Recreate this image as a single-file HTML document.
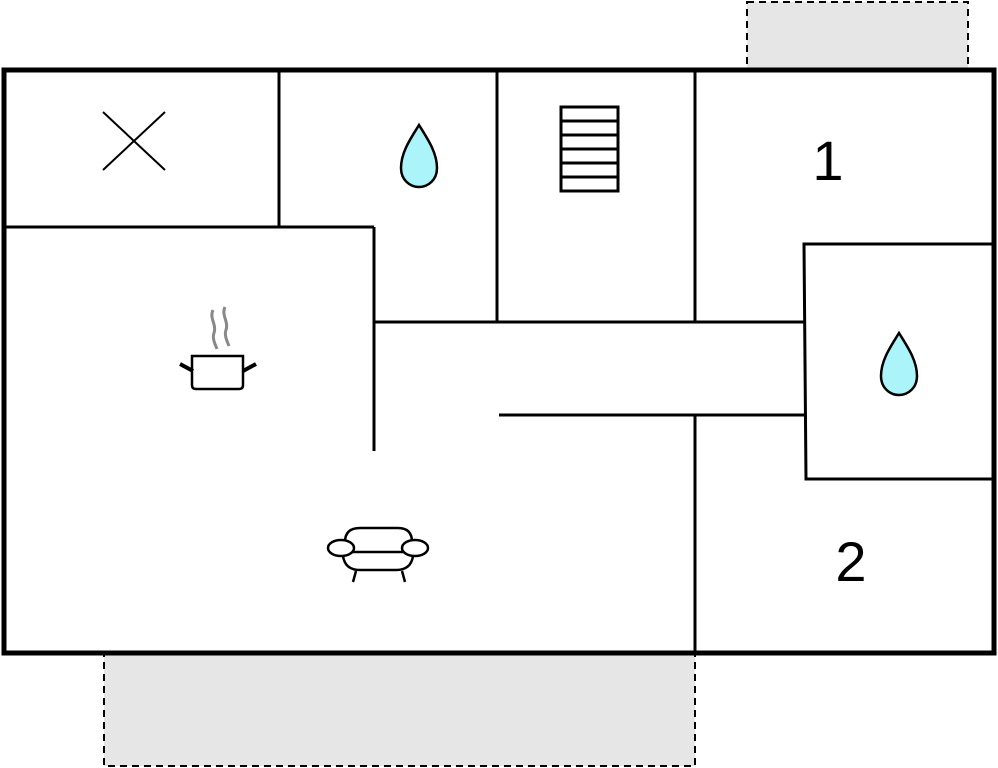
<!DOCTYPE html>
<html><head><style>html,body{margin:0;padding:0;background:#fff;}svg{display:block}</style></head>
<body>
<svg width="998" height="768" viewBox="0 0 998 768" xmlns="http://www.w3.org/2000/svg">
<rect x="747" y="2" width="221" height="68" fill="#e6e6e6" stroke="#000" stroke-width="2" stroke-dasharray="7,5"/>
<rect x="104" y="653" width="591" height="113" fill="#e6e6e6" stroke="#000" stroke-width="2" stroke-dasharray="7,5"/>
<rect x="4" y="70" width="990" height="583" fill="#fff" stroke="#000" stroke-width="5"/>
<g stroke="#000" stroke-width="3" fill="none">
<line x1="279" y1="70" x2="279" y2="227"/>
<line x1="4" y1="227" x2="374" y2="227"/>
<line x1="374" y1="227" x2="374" y2="451"/>
<line x1="497" y1="70" x2="497" y2="322"/>
<line x1="695" y1="70" x2="695" y2="322"/>
<line x1="374" y1="322" x2="805" y2="322"/>
<polyline points="994,244 804,244 806,479 994,479"/>
<line x1="499" y1="415" x2="806" y2="415"/>
<line x1="695" y1="415" x2="695" y2="653"/>
<line x1="103" y1="112" x2="165" y2="170" stroke-width="2"/>
<line x1="165" y1="112" x2="103" y2="170" stroke-width="2"/>
<rect x="561" y="107" width="57" height="84"/>
<line x1="561" y1="121" x2="618" y2="121"/>
<line x1="561" y1="135" x2="618" y2="135"/>
<line x1="561" y1="149" x2="618" y2="149"/>
<line x1="561" y1="163" x2="618" y2="163"/>
<line x1="561" y1="177" x2="618" y2="177"/>
</g>
<path d="M419 125 C411 138 401 152 401 168 C401 180 410 187 419 187 C428 187 437 180 437 168 C437 152 427 138 419 125 Z" fill="#aaf4fa" stroke="#000" stroke-width="2.5"/>
<path d="M899 333 C891 346 881 360 881 376 C881 388 890 395 899 395 C908 395 917 388 917 376 C917 360 907 346 899 333 Z" fill="#aaf4fa" stroke="#000" stroke-width="2.5"/>
<g fill="none" stroke="#888" stroke-width="3">
<path d="M213 310 C209 318 217 325 214 333 C212 338 215 344 217 349"/>
<path d="M225 307 C221 315 229 322 226 330 C224 335 227 341 229 346"/>
</g>
<g stroke="#000" fill="none">
<path d="M192 356 L243 356 L243 385 Q243 389 239 389 L196 389 Q192 389 192 385 Z" stroke-width="2.5"/>
<line x1="180" y1="364" x2="193" y2="371" stroke-width="4"/>
<line x1="256" y1="364" x2="243" y2="371" stroke-width="4"/>
<path d="M345 542 Q345 528 360 528 L398 528 Q412 528 412 542" stroke-width="2.5"/>
<ellipse cx="341" cy="548" rx="13" ry="8" stroke-width="2.5" fill="#fff"/>
<ellipse cx="415" cy="548" rx="13" ry="8" stroke-width="2.5" fill="#fff"/>
<line x1="353" y1="552" x2="403" y2="552" stroke-width="2.5"/>
<path d="M343 556 Q345 570 360 570 L396 570 Q411 570 413 556" stroke-width="2.5"/>
<line x1="356" y1="571" x2="353" y2="582" stroke-width="2.5"/>
<line x1="402" y1="571" x2="405" y2="582" stroke-width="2.5"/>
</g>
<text x="828" y="180" font-family="Liberation Sans, sans-serif" font-size="56" text-anchor="middle">1</text>
<text x="851" y="581" font-family="Liberation Sans, sans-serif" font-size="56" text-anchor="middle">2</text>
</svg>
</body></html>
